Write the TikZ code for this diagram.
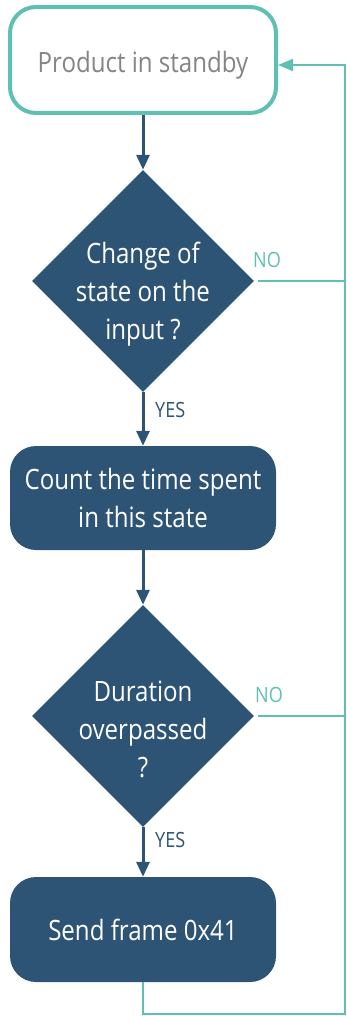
\documentclass[tikz,border=0pt]{standalone}
\usepackage{fontspec}
\setmainfont{Open Sans}[FakeStretch=0.86]
\usetikzlibrary{positioning, arrows.meta, shapes.geometric}
\definecolor{navyc}{HTML}{2E5475}
\definecolor{tealc}{HTML}{5FBFB2}
\definecolor{grayc}{HTML}{858585}

\begin{document}
\begin{tikzpicture}[x=1pt, y=-1pt, font=\fontsize{28}{38}\selectfont,
    stepbox/.style={rounded corners=26pt, minimum width=266pt, minimum height=104pt,
      align=center, fill=navyc, text=white, inner sep=0pt},
    decision/.style={diamond, aspect=1, minimum size=222pt, fill=navyc},
    decisiontext/.style={align=center, text=white, inner sep=0pt},
    flow/.style={navyc, line width=3pt, -{Triangle[width=13pt, length=15pt]}},
    loopline/.style={tealc, line width=2pt},
    answer/.style={anchor=west, inner sep=0pt, font=\fontsize{21}{24}\selectfont}]
  \useasboundingbox (0,0) rectangle (346,1016);
  % boxes and decisions, top to bottom
  \node[stepbox, fill=white, draw=tealc, line width=4pt, text=grayc,
    minimum height=106pt] (standby) at (143,60)
    {\raisebox{-5pt}[\height][\depth]{Product in standby}};
  \node[decision] (change) at (143,281) {};
  \node[decisiontext] (changetext) at ([yshift=-13pt]change.center)
    {Change of\\state on the\\input ?};
  \node[stepbox] (count) at (143,498) {Count the time spent\\in this state};
  \node[decision] (duration) at (143,716) {};
  \node[decisiontext] (durationtext) at ([yshift=-13pt]duration.center)
    {Duration\\overpassed\\?};
  \node[stepbox, minimum height=105pt] (send) at (143,929.5) {Send frame 0x41};
  \coordinate (corner) at (345,1014);
  \coordinate (entry) at (345,65);
  % main flow
  \draw[flow] (standby) -- (change);
  \draw[flow] (change) -- (count);
  \draw[flow] (count) -- (duration);
  \draw[flow] (duration) -- (send);
  \node[answer, text=navyc] (yes1) at (155,410) {YES};
  \node[answer, text=navyc] (yes2) at (155,840) {YES};
  % NO branches and loop back
  \draw[loopline, shorten <=4pt] (change.east) -- (change.east -| corner);
  \draw[loopline, shorten <=4pt] (duration.east) -- (duration.east -| corner);
  \node[answer, text=tealc] (no1) at (253,260) {NO};
  \node[answer, text=tealc] (no2) at (255,695) {NO};
  \draw[loopline, -{Triangle[width=12pt, length=15pt]}]
    (send.south) |- (corner) -- (entry) -- (entry -| standby.east);
\end{tikzpicture}
\end{document}
